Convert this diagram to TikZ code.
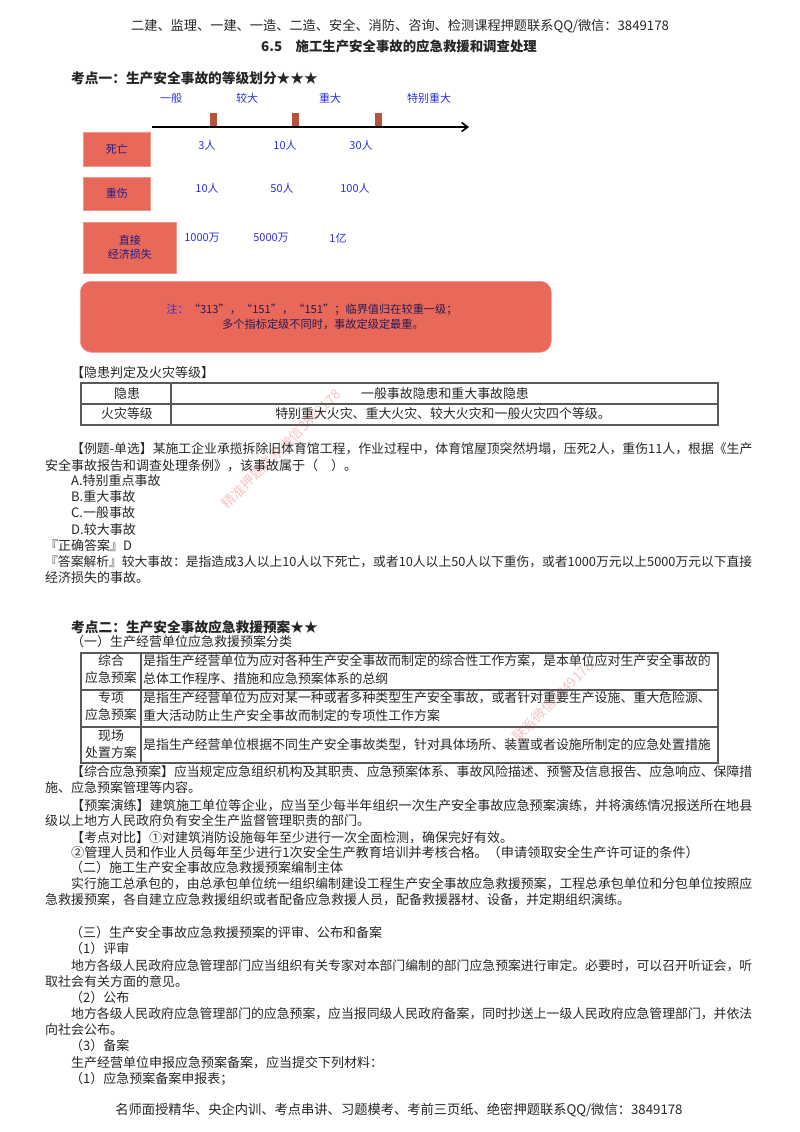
\documentclass[tikz,border=0pt]{standalone}
\usepackage{fontspec}
\setmainfont{Noto Sans CJK SC}
\usetikzlibrary{arrows.meta,positioning}
\definecolor{boxred}{HTML}{E8695A}
\definecolor{tickbrown}{HTML}{B5533C}
\definecolor{labelblue}{HTML}{2F2FE0}
\definecolor{notedark}{HTML}{2A1A50}
\definecolor{markpink}{HTML}{F6C4C4}
\tikzset{
  txt/.style={anchor=west, inner sep=0, font=\fontsize{12.85}{14}\selectfont, text=black!85},
  widetxt/.style={txt, font=\fontsize{13}{15}\selectfont},
  tabtxt/.style={txt, font=\fontsize{12.9}{15}\selectfont},
  boldtxt/.style={txt, font=\fontsize{13.7}{15}\selectfont\bfseries},
  midtxt/.style={anchor=center, inner sep=0, font=\fontsize{12.9}{15}\selectfont, text=black!85},
  level/.style={anchor=center, inner sep=0, font=\fontsize{11}{13}\selectfont, text=labelblue},
  redbox/.style={draw=boxred!70!white, line width=0.5pt, fill=boxred, inner sep=0, anchor=north west, align=center, font=\fontsize{11}{14}\selectfont, text=labelblue!60!black},
  tick/.style={draw=none, fill=tickbrown, minimum width=7pt, minimum height=14pt, inner sep=0, anchor=south},
  wmark/.style={anchor=center, inner sep=0, rotate=45, font=\fontsize{13.6}{15}\selectfont, text=markpink},
  tabline/.style={draw=black!65, line width=1.2pt}
}
\begin{document}
\begin{tikzpicture}[x=1pt, y=-1pt]
    \useasboundingbox (0,0) rectangle (800,1132);
    \def\rowA{145}
    \def\rowB{188}
    \def\rowC{238}
    % watermarks
    \node(m1) [wmark] at (281,449) {精准押题联系微信3849178};
    \node(m2) [wmark] at (548,706) {一联系微信3849178};
    % header
    \node(head) [midtxt, font=\fontsize{13.2}{15}\selectfont] at (400,26) {二建、监理、一建、一造、二造、安全、消防、咨询、检测课程押题联系QQ/微信：3849178};
    \node(title) [midtxt, font=\fontsize{13.4}{15}\selectfont\bfseries] at (399,46) {6.5\quad 施工生产安全事故的应急救援和调查处理};
    % grade chart
    \node(k1) [boldtxt] at (71,78) {考点一：生产安全事故的等级划分★★★};
    \node(g1) [level] at (171,98) {一般};
    \node(g2) [level] at (247,98) {较大};
    \node(g3) [level] at (330,98) {重大};
    \node(g4) [level] at (429,98) {特别重大};
    \coordinate (axisL) at (152,127);
    \coordinate (axisR) at (469,127);
    \node(t1) [tick] at (213,127) {};
    \node(t2) [tick] at (295,127) {};
    \node(t3) [tick] at (378,127) {};
    \draw[line width=1.6pt, -{Straight Barb[length=6pt,width=9pt]}] (axisL) -- (axisR);
    \node(b1) [redbox, minimum width=67pt, minimum height=34pt] at (83,132) {死亡};
    \node(b2) [redbox, minimum width=67pt, minimum height=33pt] at (83,177) {重伤};
    \node(b3) [redbox, minimum width=93pt, minimum height=51pt] at (83,222) {直接\\经济损失};
    \node(a1) [level] at (207,\rowA) {3人};
    \node(a2) [level] at (285,\rowA) {10人};
    \node(a3) [level] at (361,\rowA) {30人};
    \node(c1) [level] at (207,\rowB) {10人};
    \node(c2) [level] at (282,\rowB) {50人};
    \node(c3) [level] at (355,\rowB) {100人};
    \node(d1) [level] at (202,\rowC) {1000万};
    \node(d2) [level] at (271,\rowC) {5000万};
    \node(d3) [level] at (338,\rowC) {1亿};
    \node(note) [redbox, rounded corners=11pt, minimum width=471pt, minimum height=71pt] at (80,281) {};
    \node(n1) [level, text=notedark, font=\fontsize{11.2}{13}\selectfont] at (312,310) {\textcolor{labelblue}{注：}“313”，“151”，“151”；临界值归在较重一级；};
    \node(n2) [level, text=notedark, font=\fontsize{11.2}{13}\selectfont] at (323,324) {多个指标定级不同时，事故定级定最重。};
    % first table
    \node(h1) [widetxt] at (71,373) {【隐患判定及火灾等级】};
    \draw[tabline] (81,383) rectangle (718,425);
    \draw[tabline] (81,404) -- (718,404);
    \draw[tabline] (171,383) -- (171,425);
    \node(r1) [midtxt] at (127,394) {隐患};
    \node(r2) [midtxt] at (445,394) {一般事故隐患和重大事故隐患};
    \node(r3) [midtxt] at (127,414) {火灾等级};
    \node(r4) [midtxt] at (443,414) {特别重大火灾、重大火灾、较大火灾和一般火灾四个等级。};
    % example
    \node(e1) [txt] at (71,449) {【例题-单选】某施工企业承揽拆除旧体育馆工程，作业过程中，体育馆屋顶突然坍塌，压死2人，重伤11人，根据《生产};
    \node(e2) [widetxt] at (45,466) {安全事故报告和调查处理条例》，该事故属于（\quad ）。};
    \node(e3) [widetxt] at (71,481) {A.特别重点事故};
    \node(e4) [widetxt] at (71,497) {B.重大事故};
    \node(e5) [widetxt] at (71,513) {C.一般事故};
    \node(e6) [widetxt] at (71,530) {D.较大事故};
    \node(e7) [widetxt] at (45,546) {『正确答案』D};
    \node(e8) [txt, font=\fontsize{12.78}{14}\selectfont] at (45,562) {『答案解析』较大事故：是指造成3人以上10人以下死亡，或者10人以上50人以下重伤，或者1000万元以上5000万元以下直接};
    \node(e9) [widetxt] at (45,578) {经济损失的事故。};
    % second table
    \node(k2) [boldtxt] at (71,627) {考点二：生产安全事故应急救援预案★★};
    \node(h2) [widetxt] at (71,642) {（一）生产经营单位应急救援预案分类};
    \draw[tabline] (81,653) rectangle (718,763);
    \draw[tabline] (81,690) -- (718,690);
    \draw[tabline] (81,727) -- (718,727);
    \draw[tabline] (141,653) -- (141,763);
    \node(s1) [midtxt] at (111,661) {综合};
    \node(s2) [midtxt] at (111,678) {应急预案};
    \node(s3) [midtxt] at (111,698) {专项};
    \node(s4) [midtxt] at (111,715) {应急预案};
    \node(s5) [midtxt] at (111,736) {现场};
    \node(s6) [midtxt] at (111,753) {处置方案};
    \node(p1) [tabtxt] at (143,661) {是指生产经营单位为应对各种生产安全事故而制定的综合性工作方案，是本单位应对生产安全事故的};
    \node(p2) [tabtxt] at (143,679) {总体工作程序、措施和应急预案体系的总纲};
    \node(p3) [tabtxt] at (143,698) {是指生产经营单位为应对某一种或者多种类型生产安全事故，或者针对重要生产设施、重大危险源、};
    \node(p4) [tabtxt] at (143,716) {重大活动防止生产安全事故而制定的专项性工作方案};
    \node(p5) [tabtxt] at (143,745) {是指生产经营单位根据不同生产安全事故类型，针对具体场所、装置或者设施所制定的应急处置措施};
    % body text
    \node(q1) [txt] at (71,772) {【综合应急预案】应当规定应急组织机构及其职责、应急预案体系、事故风险描述、预警及信息报告、应急响应、保障措};
    \node(q2) [widetxt] at (45,788) {施、应急预案管理等内容。};
    \node(q3) [txt, font=\fontsize{13.1}{14}\selectfont] at (71,806) {【预案演练】建筑施工单位等企业，应当至少每半年组织一次生产安全事故应急预案演练，并将演练情况报送所在地县};
    \node(q4) [widetxt] at (45,821) {级以上地方人民政府负有安全生产监督管理职责的部门。};
    \node(q5) [widetxt] at (71,838) {【考点对比】①对建筑消防设施每年至少进行一次全面检测，确保完好有效。};
    \node(q6) [txt, font=\fontsize{13.2}{15}\selectfont] at (71,852) {②管理人员和作业人员每年至少进行1次安全生产教育培训并考核合格。（申请领取安全生产许可证的条件）};
    \node(q7) [widetxt] at (70,868) {（二）施工生产安全事故应急救援预案编制主体};
    \node(q8) [txt] at (71,884) {实行施工总承包的，由总承包单位统一组织编制建设工程生产安全事故应急救援预案，工程总承包单位和分包单位按照应};
    \node(q9) [widetxt] at (45,900) {急救援预案，各自建立应急救援组织或者配备应急救援人员，配备救援器材、设备，并定期组织演练。};
    \node(u1) [widetxt] at (70,933) {（三）生产安全事故应急救援预案的评审、公布和备案};
    \node(u2) [widetxt] at (70,949) {（1）评审};
    \node(u3) [txt] at (71,966) {地方各级人民政府应急管理部门应当组织有关专家对本部门编制的部门应急预案进行审定。必要时，可以召开听证会，听};
    \node(u4) [widetxt] at (45,982) {取社会有关方面的意见。};
    \node(u5) [widetxt] at (70,998) {（2）公布};
    \node(u6) [txt] at (71,1014) {地方各级人民政府应急管理部门的应急预案，应当报同级人民政府备案，同时抄送上一级人民政府应急管理部门，并依法};
    \node(u7) [widetxt] at (45,1030) {向社会公布。};
    \node(u8) [widetxt] at (70,1046) {（3）备案};
    \node(u9) [widetxt] at (71,1063) {生产经营单位申报应急预案备案，应当提交下列材料：};
    \node(u10) [widetxt] at (70,1079) {（1）应急预案备案申报表；};
    % footer
    \node(foot) [midtxt, font=\fontsize{13.27}{15}\selectfont] at (399,1110) {名师面授精华、央企内训、考点串讲、习题模考、考前三页纸、绝密押题联系QQ/微信：3849178};
\end{tikzpicture}
\end{document}
